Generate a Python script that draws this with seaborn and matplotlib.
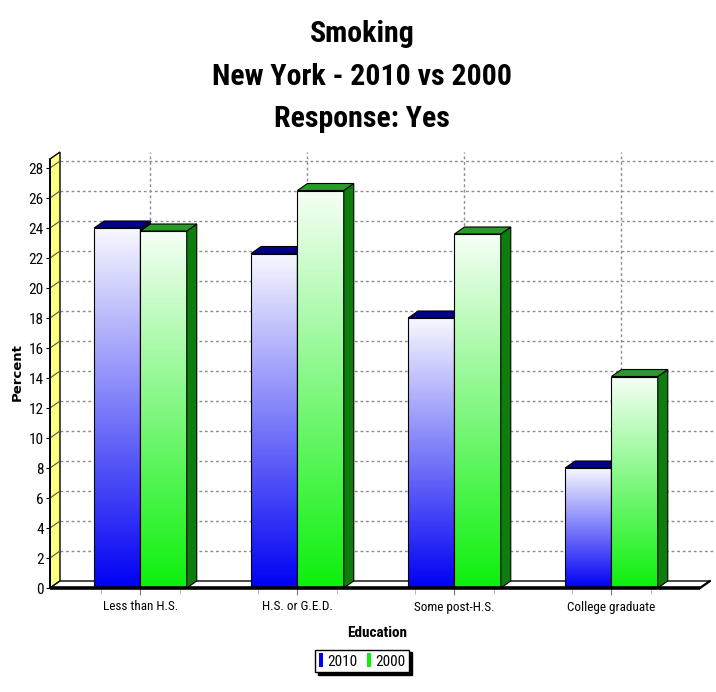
import numpy as np
import pandas as pd
import matplotlib
matplotlib.use("Agg")
import matplotlib.pyplot as plt
import seaborn as sns
from matplotlib.patches import Polygon, Patch
from matplotlib.colors import LinearSegmentedColormap

# ---- data -------------------------------------------------------------
categories = ["Less than H.S.", "H.S. or G.E.D.", "Some post-H.S.", "College graduate"]
years = ["2010", "2000"]
pct_2010 = [24.0, 22.3, 18.0, 8.0]
pct_2000 = [23.8, 26.5, 23.6, 14.1]
y_ticks = list(range(0, 29, 2))
title_lines = ["Smoking", "New York - 2010 vs 2000", "Response: Yes"]
x_title = "Education"
y_title = "Percent"

df = pd.DataFrame({
    "Education": categories * 2,
    "Year": [years[0]] * len(categories) + [years[1]] * len(categories),
    "Percent": pct_2010 + pct_2000,
})

# ---- style ------------------------------------------------------------
sns.set_style("white")
SANS = ["Roboto Condensed", "Liberation Sans Narrow", "Liberation Sans", "DejaVu Sans"]
plt.rcParams["font.family"] = SANS
plt.rcParams["text.color"] = "black"
plt.rcParams["xtick.color"] = "black"
plt.rcParams["ytick.color"] = "black"

front_col = {"2010": "#0000f4", "2000": "#0cf00c"}
light_col = {"2010": "#f8f8ff", "2000": "#f6fff6"}
top_col = {"2010": "#000088", "2000": "#2a9a2a"}
side_col = {"2010": "#00006a", "2000": "#0e7d0e"}

W, H = 716, 692
fig = plt.figure(figsize=(W / 100, H / 100), dpi=100)
left_px, right_px, bottom_px, top_px = 50, 700, 588, 152
ax = fig.add_axes([left_px / W, 1 - bottom_px / H,
                   (right_px - left_px) / W, (bottom_px - top_px) / H])

sns.barplot(data=df, x="Education", y="Percent", hue="Year",
            order=categories, hue_order=years, palette=front_col,
            width=0.59, errorbar=None, legend=False, ax=ax,
            edgecolor="black", linewidth=0.8)

x0, x1 = -0.576, 3.564
y0, y1 = 0.0, (bottom_px - top_px) / 15.0
ax.set_xlim(x0, x1)
ax.set_ylim(y0, y1)
for s in ax.spines.values():
    s.set_visible(False)
ax.set_xlabel("")
ax.set_ylabel("")

# 3-D depth in pixels -> data units
p0 = ax.transData.transform((0, 0))
p1 = ax.transData.transform((1, 1))
sx, sy = p1[0] - p0[0], p1[1] - p0[1]
DX, DY = 10, 7
ddx, ddy = DX / sx, DY / sy
x_edge = x1 + (W - right_px) / sx

# back wall grid
grid_kw = dict(color="#8c8c8c", lw=1.0, ls=(0, (2, 2)), zorder=0.5, clip_on=False)
for v in y_ticks:
    if v == 0:
        continue
    ax.plot([x0 + ddx, x_edge], [v + ddy, v + ddy], **grid_kw)
for i in range(len(categories)):
    ax.plot([i + ddx, i + ddx], [ddy, y1], **grid_kw)

# left wall
wall_top = y1 - ddy
ax.add_patch(Polygon([(x0, 0), (x0, wall_top), (x0 + ddx, y1), (x0 + ddx, ddy)],
                     closed=True, facecolor="#ffff80", edgecolor="black",
                     lw=1.0, zorder=0.8, clip_on=False))
for v in y_ticks:
    ax.plot([x0, x0 + ddx], [v, v + ddy], color="#555555", lw=0.8,
            zorder=0.9, clip_on=False)

# floor
ax.add_patch(Polygon([(x0, 0), (x1, 0), (x1 + ddx, ddy), (x0 + ddx, ddy)],
                     closed=True, facecolor="white", edgecolor="black",
                     lw=1.0, zorder=0.9, clip_on=False))

# bars: gradient fronts with side and top faces
grad = np.linspace(0, 1, 256).reshape(-1, 1)
for k, year in enumerate(years):
    cmap = LinearSegmentedColormap.from_list(year, [front_col[year], light_col[year]])
    zb = 2 + 2 * k
    for bar in ax.containers[k]:
        bx, bw, bh = bar.get_x(), bar.get_width(), bar.get_height()
        img = ax.imshow(grad, cmap=cmap, origin="lower", aspect="auto",
                        extent=[bx, bx + bw, 0, bh], zorder=zb, interpolation="bicubic")
        img.set_clip_path(bar)
        bar.set_facecolor("none")
        bar.set_zorder(zb + 0.05)
        side = Polygon([(bx + bw, 0), (bx + bw, bh), (bx + bw + ddx, bh + ddy),
                        (bx + bw + ddx, ddy)], closed=True,
                       facecolor=side_col[year], edgecolor="black", lw=0.8, zorder=zb + 0.1)
        top = Polygon([(bx, bh), (bx + bw, bh), (bx + bw + ddx, bh + ddy),
                       (bx + ddx, bh + ddy)], closed=True,
                      facecolor=top_col[year], edgecolor="black", lw=0.8, zorder=zb + 0.1)
        ax.add_patch(side)
        ax.add_patch(top)

ax.set_xlim(x0, x1)
ax.set_ylim(y0, y1)

# front edge of the floor
ax.plot([x0, x1], [0, 0], color="black", lw=2.6, zorder=9, clip_on=False,
        solid_capstyle="butt")
ax.plot([x1, x1 + ddx], [0, ddy], color="black", lw=1.6, zorder=9, clip_on=False)
# front edge of the wall
ax.plot([x0, x0], [0, wall_top], color="black", lw=1.4, zorder=9, clip_on=False)

# ticks
ax.set_yticks(y_ticks)
ax.set_yticklabels([str(v) for v in y_ticks])
ax.tick_params(axis="y", length=3, width=0.8, color="black", pad=1.5,
               labelsize=11, left=True)
ax.set_xticks(range(len(categories)))
ax.set_xticklabels(categories)
ax.set_xticks([i + d for i in range(len(categories)) for d in (-0.25, 0.25)], minor=True)
ax.tick_params(axis="x", which="major", length=5, width=0.8, color="#777777",
               pad=4, labelsize=9.5, bottom=True)
ax.tick_params(axis="x", which="minor", length=4, width=0.6, color="#aaaaaa", bottom=True)

# titles
for txt, base in zip(title_lines, [42, 85, 127]):
    fig.text(0.5 + 4 / W, 1 - base / H, txt, ha="center", va="baseline",
             fontsize=21.5, fontweight="bold")
fig.text(377 / W, 1 - 633 / H, x_title, ha="center", va="center",
         fontsize=11, fontweight="bold")
fig.text(17 / W, 1 - 372 / H, y_title, ha="center", va="center", rotation=90,
         fontsize=9.5, fontweight="bold", family=["DejaVu Sans"])

# legend
handles = [Patch(facecolor=front_col[y], edgecolor="none", label=y) for y in years]
leg = fig.legend(handles=handles, loc="center", bbox_to_anchor=(362 / W, 1 - 661 / H),
                 ncol=2, frameon=True, fontsize=11, handlelength=0.3,
                 handleheight=1.0, handletextpad=0.25, columnspacing=0.6,
                 borderpad=0.25, borderaxespad=0, fancybox=False,
                 shadow={"color": "black", "alpha": 1.0})
leg.get_frame().set_edgecolor("black")
leg.get_frame().set_linewidth(1.0)

fig.savefig("out.png", dpi=100)
